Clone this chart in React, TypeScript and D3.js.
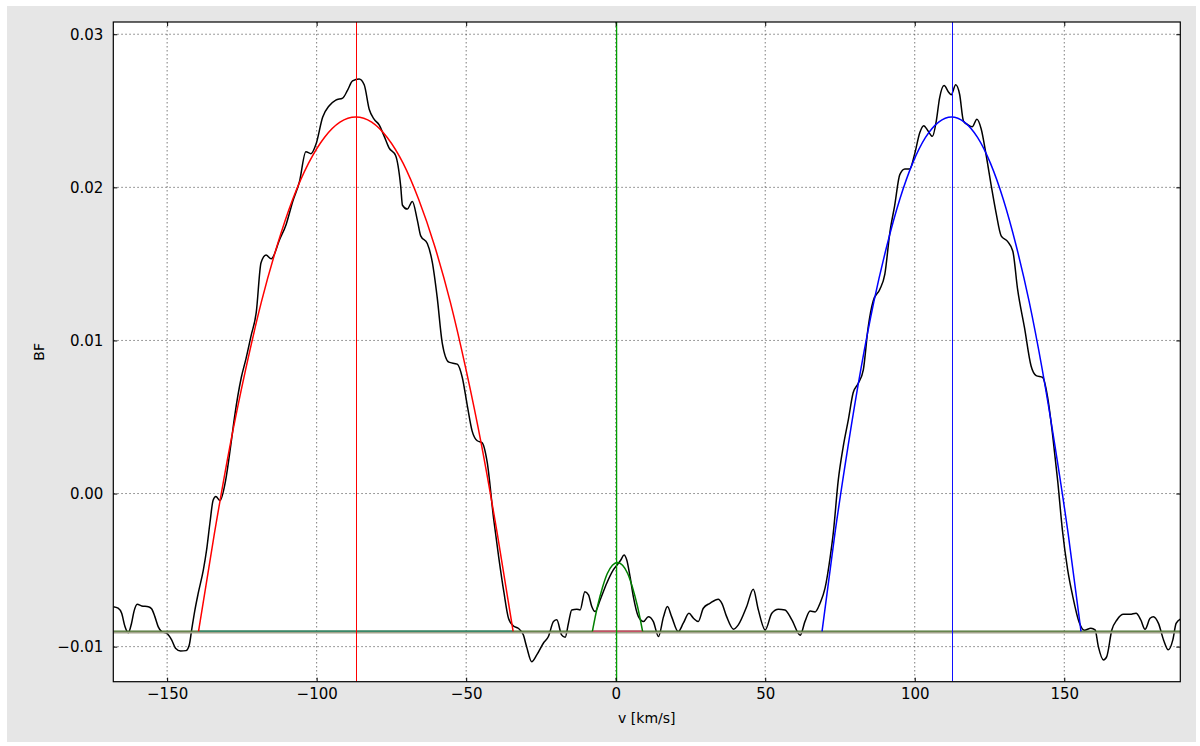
import React, { useRef, useEffect } from 'react';
import * as d3 from 'd3';

// axis settings
const xTicks = [-150, -100, -50, 0, 50, 100, 150];
const yTicks = [-0.01, 0.0, 0.01, 0.02, 0.03];
const xDomain = [-168.0, 188.8];
const yDomain = [-0.01229, 0.0308];

// broadening function (black), [v km/s, BF]
const bfData: [number, number][] = [
  [-168.0, -0.00739], [-166.4, -0.00749], [-165.2, -0.00782], [-164.1, -0.00869], [-163.0, -0.00909],
  [-161.9, -0.00847], [-161.1, -0.00771], [-160.0, -0.00723], [-158.5, -0.00734], [-156.3, -0.00739],
  [-155.2, -0.00752], [-154.1, -0.00804], [-153.0, -0.00869], [-151.8, -0.00902], [-150.2, -0.00912],
  [-148.5, -0.00956], [-147.2, -0.0101], [-145.5, -0.01028], [-143.7, -0.01026], [-142.6, -0.00989],
  [-141.8, -0.00891], [-140.7, -0.0076], [-139.6, -0.00651], [-137.9, -0.005], [-136.8, -0.00368],
  [-135.7, -0.00194], [-134.6, -0.00042], [-133.7, -0.0002], [-132.3, -0.00046], [-130.5, 0.0008],
  [-128.6, 0.00333], [-127.4, 0.00508], [-125.2, 0.00758], [-123.6, 0.00883], [-121.9, 0.01033],
  [-120.2, 0.01183], [-118.6, 0.01508], [-116.9, 0.01558], [-115.2, 0.01533], [-112.4, 0.01658],
  [-110.2, 0.01758], [-108.0, 0.01908], [-105.8, 0.02033], [-103.6, 0.02233], [-101.9, 0.0222],
  [-100.2, 0.02283], [-98.0, 0.02458], [-95.8, 0.02533], [-93.6, 0.0257], [-91.3, 0.02583],
  [-89.7, 0.02633], [-88.0, 0.02695], [-85.8, 0.02708], [-84.1, 0.0267], [-82.4, 0.02508],
  [-80.8, 0.02445], [-79.1, 0.02408], [-77.4, 0.02333], [-75.8, 0.02258], [-73.6, 0.02208],
  [-71.9, 0.02008], [-71.3, 0.01883], [-69.7, 0.01858], [-68.0, 0.01908], [-66.3, 0.01783],
  [-65.2, 0.01683], [-63.0, 0.01633], [-61.3, 0.01508], [-59.7, 0.01283], [-58.0, 0.00983],
  [-55.8, 0.00858], [-53.0, 0.00845], [-51.3, 0.00758], [-49.7, 0.00583], [-48.0, 0.00408],
  [-46.3, 0.00345], [-44.7, 0.00333], [-43.0, 0.00208], [-40.8, -0.00168], [-39.1, -0.00418],
  [-37.4, -0.00643], [-35.8, -0.00818], [-34.2, -0.00865], [-32.6, -0.0088], [-30.9, -0.00923],
  [-29.8, -0.01], [-28.1, -0.01098], [-26.4, -0.01054], [-24.2, -0.00978], [-22.5, -0.00934],
  [-20.8, -0.00836], [-19.7, -0.00825], [-18.1, -0.00923], [-16.9, -0.00939], [-15.8, -0.00847],
  [-14.7, -0.0076], [-13.0, -0.00756], [-11.9, -0.0076], [-10.3, -0.00641], [-9.1, -0.00662],
  [-8.0, -0.00738], [-6.9, -0.00771], [-5.2, -0.00695], [-3.0, -0.00586], [-0.8, -0.00499],
  [0.9, -0.00455], [1.7, -0.00434], [2.8, -0.00401], [3.7, -0.00434], [4.8, -0.00543],
  [5.9, -0.00673], [7.6, -0.00804], [9.3, -0.00836], [10.9, -0.00804], [12.6, -0.00836],
  [14.3, -0.00934], [16.0, -0.00804], [17.3, -0.00738], [18.7, -0.00804], [20.9, -0.00902],
  [22.6, -0.00847], [24.5, -0.00782], [26.0, -0.00815], [27.6, -0.00836], [29.3, -0.00749],
  [31.5, -0.00717], [34.3, -0.0069], [35.5, -0.00717], [37.1, -0.00804], [39.4, -0.00886],
  [41.0, -0.00858], [43.8, -0.00738], [46.0, -0.00625], [47.7, -0.0076], [50.0, -0.00891],
  [52.2, -0.00782], [54.4, -0.00756], [56.6, -0.0076], [58.9, -0.00825], [61.7, -0.00925],
  [63.3, -0.00835], [65.0, -0.00768], [66.7, -0.00773], [68.3, -0.00718], [70.0, -0.00618],
  [71.7, -0.00418], [72.8, -0.0025], [74.4, 0.00083], [76.1, 0.00308], [77.8, 0.00483],
  [79.4, 0.00658], [81.1, 0.0072], [82.8, 0.00808], [84.4, 0.01083], [86.1, 0.01258],
  [88.3, 0.01333], [90.0, 0.01433], [91.7, 0.01708], [93.3, 0.01883], [95.0, 0.02083],
  [96.7, 0.0212], [98.3, 0.0212], [100.0, 0.0222], [101.7, 0.02358], [103.0, 0.02403],
  [104.4, 0.0237], [105.9, 0.02333], [107.2, 0.02433], [108.3, 0.02583], [109.8, 0.02665],
  [111.4, 0.0262], [112.2, 0.02605], [113.7, 0.0267], [115.0, 0.02608], [116.3, 0.02433],
  [117.8, 0.02408], [119.2, 0.02395], [120.8, 0.02445], [122.2, 0.02383], [123.9, 0.02208],
  [125.6, 0.02008], [127.2, 0.01833], [128.9, 0.01683], [131.1, 0.01645], [132.8, 0.01583],
  [134.4, 0.01333], [136.7, 0.01083], [138.9, 0.00833], [140.6, 0.0077], [142.8, 0.00758],
  [144.4, 0.00633], [146.1, 0.00383], [147.8, 0.00083], [149.4, -0.00243], [151.1, -0.00493],
  [152.8, -0.00668], [155.0, -0.00843], [156.7, -0.00893], [158.9, -0.0088], [160.3, -0.00891],
  [161.4, -0.01], [163.1, -0.01087], [164.2, -0.01065], [165.9, -0.00891], [167.6, -0.00826],
  [169.8, -0.00789], [172.0, -0.00789], [174.0, -0.00782], [175.6, -0.00826], [177.0, -0.00887],
  [178.7, -0.00815], [179.8, -0.00804], [181.5, -0.00848], [183.2, -0.00956], [184.8, -0.01021],
  [186.3, -0.00956], [187.4, -0.00848], [188.8, -0.0082],
];

// fitted components
const redFit: [number, number][] = [
  [-139.5, -0.009], [-134.2, -0.00262], [-129.0, 0.0031], [-123.7, 0.00814], [-118.5, 0.0125],
  [-113.2, 0.0162], [-108.0, 0.01922], [-102.7, 0.02158], [-97.4, 0.02326], [-92.2, 0.02426],
  [-86.9, 0.0246], [-81.6, 0.02426], [-76.4, 0.02326], [-71.1, 0.02158], [-65.9, 0.01922],
  [-60.6, 0.0162], [-55.3, 0.0125], [-50.1, 0.00814], [-44.8, 0.0031], [-39.6, -0.00262],
  [-34.3, -0.009],
];
const blueFit: [number, number][] = [
  [69.0, -0.009], [73.3, -0.00262], [77.7, 0.0031], [82.0, 0.00814], [86.3, 0.0125],
  [90.7, 0.0162], [95.0, 0.01922], [99.3, 0.02158], [103.6, 0.02326], [108.0, 0.02426],
  [112.3, 0.0246], [116.6, 0.02426], [121.0, 0.02326], [125.3, 0.02158], [129.6, 0.01922],
  [133.9, 0.0162], [138.3, 0.0125], [142.6, 0.00814], [146.9, 0.0031], [151.3, -0.00262],
  [155.6, -0.009],
];
const greenFit: [number, number][] = [
  [-7.8, -0.009], [-6.1, -0.00738], [-4.4, -0.00612], [-2.8, -0.00522], [-1.1, -0.00468],
  [0.6, -0.0045], [2.3, -0.00468], [4.0, -0.00522], [5.6, -0.00612], [7.3, -0.00738],
  [9.0, -0.009],
];
const baseLevel = -0.009;
const centres = [-86.9, 0.3, 112.3]; // red, green, blue

const App = () => {
  const ref = useRef<SVGSVGElement>(null);

  useEffect(() => {
    const svg = d3.select(ref.current);
    svg.selectAll('*').remove();

    const W = 1200, H = 746;
    const left = 113.3, right = 1180.3, top = 22, bottom = 681.7;
    const font = '"DejaVu Sans", sans-serif';

    svg.attr('width', W).attr('height', H);
    svg.append('rect').attr('x', 7).attr('y', 6).attr('width', 1189).attr('height', 736).attr('fill', '#e6e6e6');
    svg.append('rect').attr('x', left).attr('y', top).attr('width', right - left).attr('height', bottom - top).attr('fill', '#fff');

    const x = d3.scaleLinear().domain(xDomain).range([left, right]);
    const y = d3.scaleLinear().domain(yDomain).range([bottom, top]);

    svg.append('clipPath').attr('id', 'plotclip')
      .append('rect').attr('x', left).attr('y', top).attr('width', right - left).attr('height', bottom - top);

    // dotted grid
    const grid = svg.append('g').attr('stroke', '#444').attr('stroke-width', 0.7).attr('stroke-dasharray', '1.5,2.5');
    grid.selectAll('.gx').data(xTicks).enter().append('line')
      .attr('x1', (d) => x(d)).attr('x2', (d) => x(d)).attr('y1', top).attr('y2', bottom);
    grid.selectAll('.gy').data(yTicks).enter().append('line')
      .attr('y1', (d) => y(d)).attr('y2', (d) => y(d)).attr('x1', left).attr('x2', right);

    const plot = svg.append('g').attr('clip-path', 'url(#plotclip)');
    const line = d3.line<[number, number]>().x((d) => x(d[0])).y((d) => y(d[1])).curve(d3.curveMonotoneX);

    plot.append('path').datum(bfData).attr('d', line).attr('fill', 'none')
      .attr('stroke', '#000').attr('stroke-width', 1.5).attr('stroke-linejoin', 'round');

    // baselines of the fitted components
    const yb = y(baseLevel);
    plot.append('line').attr('x1', left).attr('x2', right).attr('y1', yb + 1).attr('y2', yb + 1)
      .attr('stroke', '#a3a38c').attr('stroke-width', 2.2);
    plot.append('line').attr('x1', left).attr('x2', right).attr('y1', yb - 0.3).attr('y2', yb - 0.3)
      .attr('stroke', '#4b7330').attr('stroke-width', 1.2);
    plot.append('line').attr('x1', x(redFit[0][0])).attr('x2', x(redFit[redFit.length - 1][0]))
      .attr('y1', yb - 0.3).attr('y2', yb - 0.3).attr('stroke', '#2a8a74').attr('stroke-width', 1.3);
    plot.append('line').attr('x1', x(greenFit[0][0])).attr('x2', x(greenFit[greenFit.length - 1][0]))
      .attr('y1', yb - 0.3).attr('y2', yb - 0.3).attr('stroke', '#e0406e').attr('stroke-width', 1.3);

    const fits: [[number, number][], string][] = [[redFit, '#ff0000'], [greenFit, '#008000'], [blueFit, '#0000ff']];
    fits.forEach(([d, c]) => {
      plot.append('path').datum(d).attr('d', line).attr('fill', 'none').attr('stroke', c).attr('stroke-width', 1.5);
    });

    // component centres
    const vcol = ['#ff0000', '#00a000', '#1010ff'];
    centres.forEach((c, i) => {
      const px = i === 1 ? x(c) : Math.round(x(c)) + 0.5;
      plot.append('line')
        .attr('x1', px).attr('x2', px).attr('y1', top).attr('y2', bottom)
        .attr('stroke', vcol[i]).attr('stroke-width', i === 1 ? 1.3 : 1);
    });

    // axes with inward ticks on all four sides
    const styleAxis = (g: any) => {
      g.select('.domain').remove();
      g.selectAll('.tick line').attr('stroke', '#000');
      g.selectAll('text').attr('font-family', font).attr('font-size', 15).attr('fill', '#000');
    };
    svg.append('g').attr('transform', `translate(0,${bottom})`)
      .call(d3.axisBottom(x).tickValues(xTicks).tickSizeInner(-4).tickSizeOuter(0).tickPadding(7).tickFormat(d3.format('d')))
      .call(styleAxis);
    svg.append('g').attr('transform', `translate(0,${top})`)
      .call(d3.axisTop(x).tickValues(xTicks).tickSizeInner(-4).tickSizeOuter(0).tickFormat(() => ''))
      .call(styleAxis);
    svg.append('g').attr('transform', `translate(${left},0)`)
      .call(d3.axisLeft(y).tickValues(yTicks).tickSizeInner(-4).tickSizeOuter(0).tickPadding(10).tickFormat(d3.format('.2f')))
      .call(styleAxis);
    svg.append('g').attr('transform', `translate(${right},0)`)
      .call(d3.axisRight(y).tickValues(yTicks).tickSizeInner(-4).tickSizeOuter(0).tickFormat(() => ''))
      .call(styleAxis);

    svg.append('rect').attr('x', left).attr('y', top).attr('width', right - left).attr('height', bottom - top)
      .attr('fill', 'none').attr('stroke', '#000').attr('stroke-width', 1.2);

    svg.append('text').attr('x', (left + right) / 2).attr('y', 723).attr('text-anchor', 'middle')
      .attr('font-family', font).attr('font-size', 14).text('v [km/s]');
    svg.append('text').attr('transform', `translate(44,${(top + bottom) / 2}) rotate(-90)`).attr('text-anchor', 'middle')
      .attr('font-family', font).attr('font-size', 14).text('BF');
  }, []);

  return <svg ref={ref} style={{ position: 'absolute', left: 0, top: 0, display: 'block' }}></svg>;
};

export default App;
